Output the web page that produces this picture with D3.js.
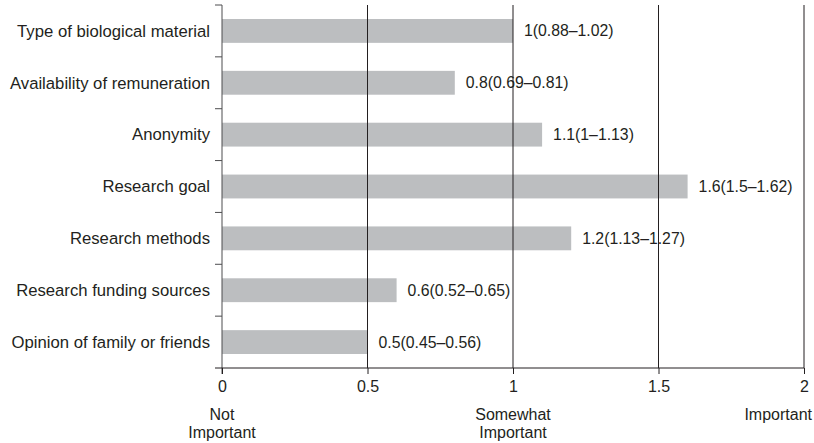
<!DOCTYPE html>
<html>
<head>
<meta charset="utf-8">
<script src="https://cdn.jsdelivr.net/npm/d3@7"></script>
<style>
  body { margin: 0; background: #fff; }
  text { font-family: "Liberation Sans", Arial, sans-serif; fill: #231f20; }
</style>
</head>
<body>
<div id="chart"></div>
<script>
// data
const categories = [
  "Type of biological material",
  "Availability of remuneration",
  "Anonymity",
  "Research goal",
  "Research methods",
  "Research funding sources",
  "Opinion of family or friends"
];
const values = [1, 0.8, 1.1, 1.6, 1.2, 0.6, 0.5];
const valueLabels = [
  "1(0.88–1.02)",
  "0.8(0.69–0.81)",
  "1.1(1–1.13)",
  "1.6(1.5–1.62)",
  "1.2(1.13–1.27)",
  "0.6(0.52–0.65)",
  "0.5(0.45–0.56)"
];
const xTicks = [0, 0.5, 1, 1.5, 2];
const scaleNotes = [
  { v: 0, lines: ["Not", "Important"] },
  { v: 1, lines: ["Somewhat", "Important"] },
  { v: 2, lines: ["Important"] }
];

const w = 814, h = 443;
const plotLeft = 222, plotRight = 804, plotTop = 5, plotBottom = 368;

const svg = d3.select("#chart").append("svg")
  .attr("width", w)
  .attr("height", h);

const x = d3.scaleLinear().domain([0, 2]).range([plotLeft, plotRight]);
const y = d3.scaleBand().domain(categories).range([plotTop, plotBottom])
  .paddingInner(0.54).paddingOuter(0.27);

// bars
svg.selectAll("rect.bar")
  .data(categories)
  .enter().append("rect")
  .attr("class", "bar")
  .attr("x", x(0))
  .attr("y", d => y(d))
  .attr("width", (d, i) => x(values[i]) - x(0))
  .attr("height", y.bandwidth())
  .attr("fill", "#bcbec0");

// value labels
svg.selectAll("text.val")
  .data(categories)
  .enter().append("text")
  .attr("class", "val")
  .attr("x", (d, i) => x(values[i]) + 11)
  .attr("y", d => y(d) + y.bandwidth() / 2)
  .attr("dy", "0.35em")
  .style("font-size", "15.8px")
  .text((d, i) => valueLabels[i]);

// vertical grid lines (drawn over the bars)
svg.selectAll("line.grid")
  .data(xTicks.filter(d => d > 0))
  .enter().append("line")
  .attr("class", "grid")
  .attr("x1", d => x(d)).attr("x2", d => x(d))
  .attr("y1", plotTop).attr("y2", plotBottom)
  .attr("stroke", "#231f20")
  .attr("stroke-width", 1);

// y axis: line + ticks at the band edges
const step = y.step();
const edges = categories.map(d => y(d) - (step - y.bandwidth()) / 2);
svg.append("line")
  .attr("x1", plotLeft).attr("x2", plotLeft)
  .attr("y1", plotTop).attr("y2", plotBottom + 6)
  .attr("stroke", "#4d4d4f");
svg.selectAll("line.ytick")
  .data(edges)
  .enter().append("line")
  .attr("class", "ytick")
  .attr("x1", plotLeft - 7).attr("x2", plotLeft)
  .attr("y1", d => d).attr("y2", d => d)
  .attr("stroke", "#4d4d4f");

svg.selectAll("text.cat")
  .data(categories)
  .enter().append("text")
  .attr("class", "cat")
  .attr("x", plotLeft - 12)
  .attr("y", d => y(d) + y.bandwidth() / 2)
  .attr("dy", "0.35em")
  .attr("text-anchor", "end")
  .style("font-size", "16.7px")
  .text(d => d);

// x axis
const xAxis = d3.axisBottom(x)
  .tickValues(xTicks)
  .tickFormat(d3.format("~g"))
  .tickSize(6)
  .tickSizeOuter(0);

const gx = svg.append("g")
  .attr("transform", "translate(0," + plotBottom + ")")
  .call(xAxis);
gx.select(".domain").remove();
gx.selectAll(".tick line").attr("stroke", "#231f20");
gx.selectAll(".tick text")
  .attr("y", 13)
  .style("font-size", "16px")
  .style("font-family", "'Liberation Sans', Arial, sans-serif")
  .attr("fill", "#231f20");

svg.append("line")
  .attr("x1", plotLeft - 7).attr("x2", plotRight)
  .attr("y1", plotBottom).attr("y2", plotBottom)
  .attr("stroke", "#231f20");

// scale notes under the axis
scaleNotes.forEach(n => {
  const nx = n.v === 2 ? x(n.v) + 8 : x(n.v);
  const t = svg.append("text")
    .attr("text-anchor", n.v === 2 ? "end" : "middle")
    .attr("x", nx)
    .attr("y", 419.5)
    .style("font-size", "16px");
  n.lines.forEach((line, i) => {
    t.append("tspan")
      .attr("x", nx)
      .attr("dy", i === 0 ? 0 : 18.7)
      .text(line);
  });
});
</script>
</body>
</html>
